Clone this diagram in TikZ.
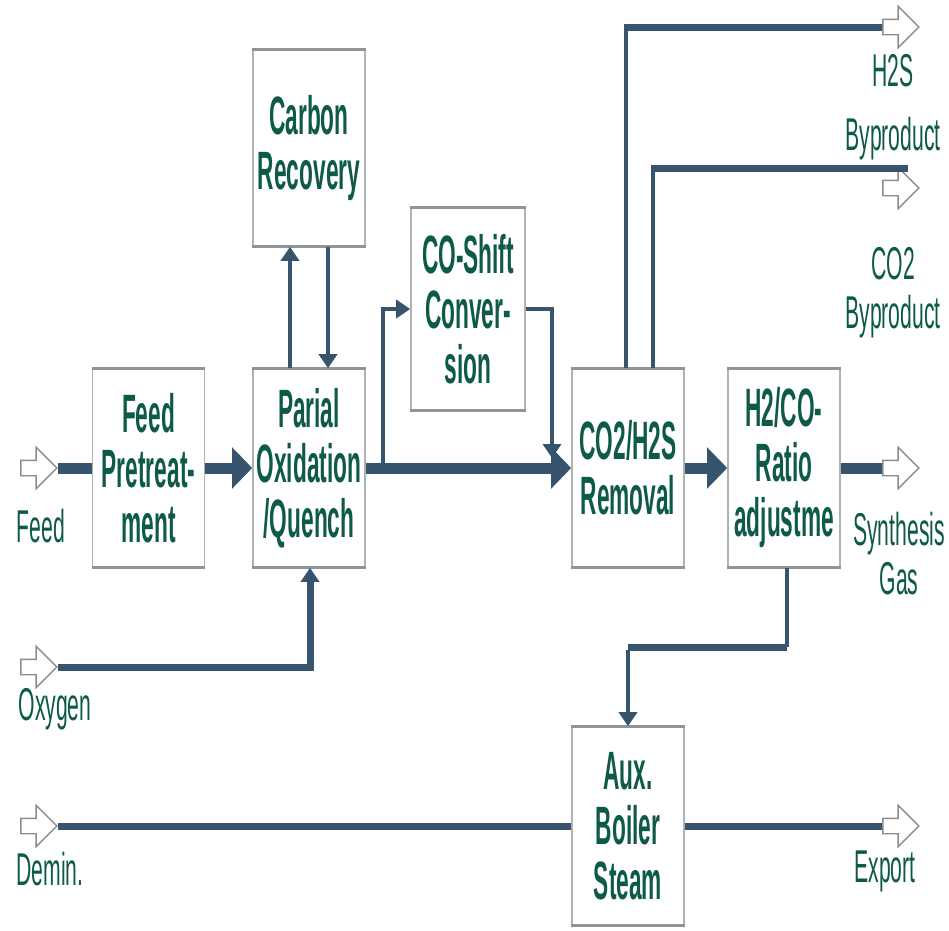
\documentclass[tikz,border=0pt]{standalone}
\usepackage{fontspec}
\newfontfamily\boxfont[FakeStretch=0.42]{Liberation Sans}
\newfontfamily\lblfont[FakeStretch=0.46]{Liberation Sans}
\usetikzlibrary{arrows.meta,shapes.arrows}
\definecolor{pipe}{HTML}{36546E}
\definecolor{txt}{HTML}{0E5A48}
\definecolor{boxgray}{HTML}{AEB2B2}
\definecolor{edgegray}{HTML}{8E9494}
\definecolor{hollowgray}{HTML}{8C8C8C}
\begin{document}
\begin{tikzpicture}[x=1pt,y=-1pt,
  unit/.style={draw=boxgray, line width=1.6pt, fill=white, minimum width=112pt,
    minimum height=198pt, inner sep=0pt, align=center, text=txt,
    font=\boxfont\bfseries\fontsize{54}{55}\selectfont},
  edge/.style={draw=edgegray, line width=3pt},
  lbl/.style={font=\lblfont\fontsize{46}{48}\selectfont, text=txt, anchor=base, inner sep=0pt},
  hollow/.style={single arrow, draw=hollowgray, fill=white, line width=1.4pt,
    minimum height=36pt, inner sep=7pt, single arrow head extend=13pt},
  thick pipe/.style={draw=pipe, line width=11pt},
  mid pipe/.style={draw=pipe, line width=7pt},
  thin pipe/.style={draw=pipe, line width=4pt},
  big tip/.style={-{Triangle[length=20pt,width=40pt]}},
  small tip/.style={-{Triangle[length=14pt,width=18pt]}}
]
\fill[white] (0,0) rectangle (949,930);
\useasboundingbox (0,0) rectangle (949,930);

% process boxes
\node[unit] (feed)   at (148.5,468) {Feed\\Pretreat-\\ment};
\node[unit] (pox)    at (309,468)   {Parial\\Oxidation\\/Quench};
\node[unit, minimum height=196pt] (carbon) at (309,148) {Carbon\\Recovery};
\node[unit, minimum width=114pt, minimum height=202pt] (shift) at (468,309) {CO-Shift\\Conver-\\sion};
\node[unit] (rem)    at (628,468)   {CO2/H2S\\Removal};
\node[unit] (ratio)  at (784,468)   {H2/CO-\\Ratio\\adjustme};
\node[unit] (aux)    at (628,826)   {Aux.\\Boiler\\Steam};
\foreach \n in {feed,pox,carbon,shift,rem,ratio,aux}{
  \draw[edge] (\n.north west) -- (\n.north east);
  \draw[edge] (\n.south west) -- (\n.south east);
}

% hollow terminal arrows
\node[hollow] (feedarr) at (35,468) {};
\node[hollow] (oxarr)   at (35,667) {};
\node[hollow] (deminarr) at (35,826) {};
\node[hollow] (exparr)  at (897,826) {};
\node[hollow] (synarr)  at (897,468) {};
\node[hollow] (h2sarr)  at (897,27) {};
\node[hollow] (co2arr)  at (897,188) {};

% labels
\node[lbl] (lfeed)  at (41,542)  {Feed};
\node[lbl] (lox)    at (55,720)  {Oxygen};
\node[lbl] (ldemin) at (50,885)  {Demin.};
\node[lbl] (lexp)   at (885,882) {Export};
\node[lbl] (lsyn1)  at (899,545) {Synthesis};
\node[lbl] (lsyn2)  at (899,594) {Gas};
\node[lbl] (lh2s1)  at (893,86)  {H2S};
\node[lbl] (lh2s2)  at (893,150) {Byproduct};
\node[lbl] (lco21)  at (893,279) {CO2};
\node[lbl] (lco22)  at (893,328) {Byproduct};

% corner / free coordinates
\coordinate (branch) at (383,468);
\coordinate (merge)  at (552,458);
\coordinate (h2sc)   at (626,27);
\coordinate (co2c)   at (653,168);
\coordinate (co2end) at (908,168);
\coordinate (auxc)   at (787,647);

% main flow
\draw[thick pipe] (feedarr.tip) -- (feed.west);
\draw[thick pipe, big tip] (feed.east) -- (pox.west);
\draw[thick pipe, big tip] (pox.east) -- (rem.west);
\draw[thick pipe, big tip] (rem.east) -- (ratio.west);
\draw[thick pipe] (ratio.east) -- (synarr.tail);

% CO shift bypass
\draw[thin pipe, small tip] (branch) |- (shift.west);
\draw[thin pipe, small tip] (shift.east) -| (merge);

% carbon recovery loop
\draw[thin pipe, small tip] ([xshift=-19pt]pox.north) -- ([xshift=-19pt]carbon.south);
\draw[thin pipe, small tip] ([xshift=19pt]carbon.south) -- ([xshift=19pt]pox.north);

% oxygen
\draw[mid pipe, small tip] (oxarr.tip) -| ([xshift=1pt]pox.south);

% byproducts
\draw[thin pipe, line width=3.5pt] ([xshift=-2pt]rem.north) -- (h2sc);
\draw[mid pipe] ([xshift=-1.75pt]h2sc) -- (h2sarr.tail);
\draw[thin pipe, line width=3.5pt] ([xshift=25pt]rem.north) -- (co2c);
\draw[mid pipe] ([xshift=-1.75pt]co2c) -- (co2end);

% ratio to aux boiler
\draw[thin pipe] ([xshift=3pt]ratio.south) -- (auxc);
\draw[mid pipe] (auxc) -- (auxc -| aux.north);
\draw[thin pipe, small tip] ([yshift=-3pt]auxc -| aux.north) -- (aux.north);

% demin / export
\draw[mid pipe] (deminarr.tip) -- (aux.west);
\draw[mid pipe] (aux.east) -- (exparr.tail);
\end{tikzpicture}
\end{document}
